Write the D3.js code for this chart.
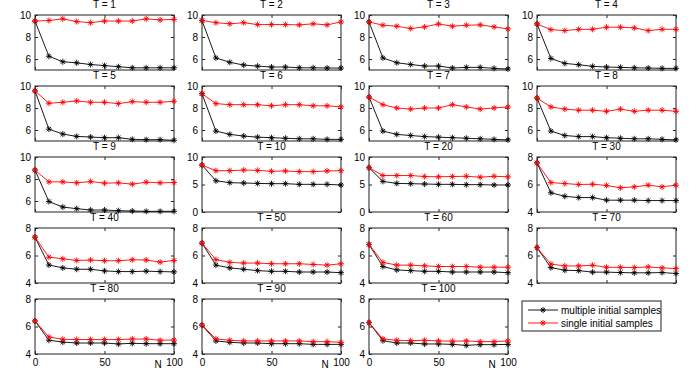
<!DOCTYPE html>
<html>
<head>
<meta charset="utf-8">
<script src="https://cdn.jsdelivr.net/npm/d3@7"></script>
<style>
  body { margin: 0; background: #fff; }
  text { font-family: "Liberation Sans", Arial, sans-serif; font-size: 10px; fill: #000; }
</style>
</head>
<body>
<div id="chart"></div>
<script>
// panel labels (T) and x values (N)
var tValues = [1, 2, 3, 4, 5, 6, 7, 8, 9, 10, 20, 30, 40, 50, 60, 70, 80, 90, 100];
var nValues = [0, 10, 20, 30, 40, 50, 60, 70, 80, 90, 100];
var xTicks = [0, 50, 100];

// y limits and tick values for each panel
var yLimits = [
  [5, 10], [5, 10], [5, 10], [5, 10],
  [5, 10], [5, 10], [5, 10], [5, 10],
  [5, 10], [0, 10], [0, 10], [4, 8],
  [4, 8], [4, 8], [4, 8], [4, 8],
  [4, 8], [4, 8], [4, 8]
];
var yTicks = [
  [6, 8, 10], [6, 8, 10], [6, 8, 10], [6, 8, 10],
  [6, 8, 10], [6, 8, 10], [6, 8, 10], [6, 8, 10],
  [6, 8, 10], [0, 5, 10], [0, 5, 10], [4, 6, 8],
  [4, 6, 8], [4, 6, 8], [4, 6, 8], [4, 6, 8],
  [4, 6, 8], [4, 6, 8], [4, 6, 8]
];

// multiple initial samples (black)
var multiple = [
  [9.45, 6.25, 5.75, 5.65, 5.5, 5.4, 5.3, 5.2, 5.2, 5.2, 5.2],
  [9.5, 6.1, 5.7, 5.45, 5.35, 5.27, 5.27, 5.2, 5.2, 5.18, 5.18],
  [9.37, 6.1, 5.66, 5.5, 5.36, 5.36, 5.18, 5.24, 5.24, 5.15, 5.09],
  [9.19, 6.05, 5.6, 5.48, 5.33, 5.27, 5.24, 5.2, 5.18, 5.15, 5.15],
  [9.55, 6.08, 5.63, 5.42, 5.36, 5.3, 5.3, 5.15, 5.12, 5.12, 5.06],
  [9.3, 5.9, 5.6, 5.45, 5.35, 5.3, 5.25, 5.2, 5.2, 5.15, 5.15],
  [9.0, 5.9, 5.6, 5.5, 5.4, 5.35, 5.3, 5.25, 5.2, 5.15, 5.1],
  [8.9, 5.9, 5.5, 5.4, 5.4, 5.3, 5.25, 5.2, 5.2, 5.15, 5.1],
  [8.81, 5.95, 5.45, 5.3, 5.18, 5.18, 5.12, 5.09, 5.06, 5.06, 5.06],
  [8.52, 5.68, 5.33, 5.27, 5.2, 5.15, 5.15, 5.03, 5.03, 5.03, 4.91],
  [8.05, 5.56, 5.2, 5.15, 5.09, 5.03, 5.03, 4.97, 4.97, 4.91, 4.91],
  [7.57, 5.4, 5.14, 5.05, 5.05, 4.86, 4.86, 4.86, 4.83, 4.83, 4.83],
  [7.33, 5.31, 5.1, 5.0, 5.0, 4.88, 4.83, 4.83, 4.86, 4.83, 4.81],
  [6.9, 5.3, 5.1, 5.0, 4.9, 4.85, 4.85, 4.8, 4.8, 4.8, 4.75],
  [6.8, 5.2, 4.95, 4.9, 4.85, 4.85, 4.8, 4.8, 4.8, 4.8, 4.75],
  [6.57, 5.12, 4.93, 4.9, 4.79, 4.79, 4.76, 4.74, 4.74, 4.76, 4.69],
  [6.4, 5.0, 4.87, 4.8, 4.8, 4.8, 4.73, 4.78, 4.75, 4.75, 4.75],
  [6.1, 4.95, 4.85, 4.8, 4.8, 4.75, 4.75, 4.75, 4.7, 4.7, 4.7],
  [6.28, 4.97, 4.8, 4.8, 4.73, 4.73, 4.7, 4.63, 4.68, 4.68, 4.7]
];

// single initial samples (red)
var single = [
  [9.45, 9.5, 9.65, 9.4, 9.3, 9.45, 9.45, 9.45, 9.65, 9.55, 9.6],
  [9.5, 9.3, 9.2, 9.3, 9.13, 9.13, 9.13, 9.1, 9.2, 9.1, 9.37],
  [9.37, 9.07, 8.98, 8.77, 8.92, 9.19, 8.98, 9.07, 9.1, 8.92, 8.73],
  [9.19, 8.67, 8.58, 8.7, 8.7, 8.89, 8.89, 8.83, 8.58, 8.7, 8.7],
  [9.55, 8.43, 8.52, 8.64, 8.52, 8.52, 8.4, 8.58, 8.52, 8.52, 8.61],
  [9.3, 8.4, 8.3, 8.3, 8.3, 8.2, 8.3, 8.3, 8.2, 8.2, 8.1],
  [9.0, 8.3, 8.0, 7.9, 8.0, 8.0, 8.3, 8.1, 7.9, 8.0, 8.1],
  [8.9, 8.1, 7.9, 7.8, 7.8, 7.7, 7.9, 7.7, 7.8, 7.8, 7.7],
  [8.81, 7.74, 7.74, 7.65, 7.77, 7.62, 7.65, 7.53, 7.71, 7.65, 7.68],
  [8.52, 7.51, 7.51, 7.63, 7.57, 7.4, 7.46, 7.34, 7.34, 7.46, 7.51],
  [8.05, 6.63, 6.63, 6.63, 6.45, 6.4, 6.45, 6.5, 6.33, 6.5, 6.4],
  [7.57, 6.14, 6.07, 6.0, 6.02, 5.93, 5.76, 5.83, 5.95, 5.83, 5.95],
  [7.33, 5.88, 5.76, 5.64, 5.67, 5.62, 5.62, 5.69, 5.67, 5.52, 5.64],
  [6.9, 5.7, 5.5, 5.45, 5.45, 5.4, 5.4, 5.4, 5.35, 5.3, 5.4],
  [6.8, 5.5, 5.3, 5.3, 5.25, 5.2, 5.2, 5.2, 5.15, 5.15, 5.15],
  [6.57, 5.38, 5.24, 5.24, 5.29, 5.14, 5.14, 5.12, 5.17, 5.1, 5.05],
  [6.4, 5.24, 5.07, 5.05, 5.05, 5.05, 5.05, 5.09, 5.09, 5.0, 5.02],
  [6.1, 5.1, 5.0, 4.95, 4.95, 4.95, 4.95, 4.95, 4.9, 4.9, 4.85],
  [6.28, 5.09, 5.0, 4.97, 5.0, 4.95, 4.93, 4.95, 4.9, 4.9, 4.95]
];

var seriesNames = ["multiple initial samples", "single initial samples"];
var seriesColors = ["#000", "#ff0000"];

var W = 696, H = 374;
var colLeft = [35, 202, 369, 537];
var rowTop = [15, 86, 157, 228, 299];
var w = 139, h = 55;

var svg = d3.select("#chart").append("svg")
  .attr("width", W)
  .attr("height", H);

//asterisk marker like matlab '*'
function star(r) {
  var a = r * 0.7;
  return "M" + (-r) + ",0L" + r + ",0M0," + (-r) + "L0," + r +
    "M" + (-a) + "," + (-a) + "L" + a + "," + a +
    "M" + (-a) + "," + a + "L" + a + "," + (-a);
}

var x = d3.scaleLinear().domain([0, 100]).range([0, w]);
var fmt = d3.format("d");

tValues.forEach(function(t, i) {
  var col = i % 4, row = Math.floor(i / 4);
  var g = svg.append("g")
    .attr("transform", "translate(" + colLeft[col] + "," + rowTop[row] + ")");

  var y = d3.scaleLinear().domain(yLimits[i]).range([h, 0]);

  var bottomRow = (row === 4);

  // axes with inward ticks
  var left = g.append("g").call(d3.axisLeft(y).tickValues(yTicks[i]).tickSizeInner(-3).tickSizeOuter(0)
    .tickPadding(4).tickFormat(fmt));
  var right = g.append("g").attr("transform", "translate(" + w + ",0)")
    .call(d3.axisRight(y).tickValues(yTicks[i]).tickSizeInner(-3).tickSizeOuter(0).tickFormat(""));
  var top = g.append("g")
    .call(d3.axisTop(x).tickValues(xTicks).tickSizeInner(-3).tickSizeOuter(0).tickFormat(""));
  var bottom = g.append("g").attr("transform", "translate(0," + h + ")")
    .call(d3.axisBottom(x).tickValues(xTicks).tickSizeInner(-3).tickSizeOuter(0).tickPadding(5)
      .tickFormat(bottomRow ? fmt : ""));

  [left, right, top, bottom].forEach(function(a) {
    a.select(".domain").remove();
    a.selectAll(".tick line").attr("stroke", "#222");
    a.selectAll("text").style("font-size", "10px").attr("fill", "#000")
      .style("font-family", '"Liberation Sans", Arial, sans-serif');
  });

  g.append("rect")
    .attr("x", 0).attr("y", 0)
    .attr("width", w).attr("height", h)
    .attr("fill", "none")
    .attr("stroke", "#333")
    .attr("stroke-width", 1.1);

  if (bottomRow) {
    g.append("text")
      .attr("x", x(88.5))
      .attr("y", h + 14)
      .attr("text-anchor", "middle")
      .text("N");
  }

  // title
  g.append("text")
    .attr("x", w / 2)
    .attr("y", -7)
    .attr("text-anchor", "middle")
    .text("T = " + t);

  var line = d3.line()
    .x(function(d, j) { return x(nValues[j]); })
    .y(function(d) { return y(d); });

  [multiple[i], single[i]].forEach(function(vals, s) {
    g.append("path")
      .datum(vals)
      .attr("d", line)
      .attr("fill", "none")
      .attr("stroke", seriesColors[s])
      .attr("stroke-width", 0.9);

    g.selectAll(".m" + s)
      .data(vals)
      .enter()
      .append("path")
      .attr("class", "m" + s)
      .attr("d", star(3))
      .attr("transform", function(d, j) {
        return "translate(" + x(nValues[j]) + "," + y(d) + ")";
      })
      .attr("fill", "none")
      .attr("stroke", seriesColors[s])
      .attr("stroke-width", 0.9);
  });
});

//legend
var legend = svg.append("g").attr("transform", "translate(522,301)");
legend.append("rect")
  .attr("width", 139).attr("height", 30)
  .attr("fill", "#fff")
  .attr("stroke", "#333")
  .attr("stroke-width", 1.1);

seriesNames.forEach(function(name, s) {
  var ly = 9 + s * 13;
  legend.append("line")
    .attr("x1", 6).attr("x2", 36)
    .attr("y1", ly).attr("y2", ly)
    .attr("stroke", seriesColors[s])
    .attr("stroke-width", 0.9);
  legend.append("path")
    .attr("d", star(3))
    .attr("transform", "translate(21," + ly + ")")
    .attr("fill", "none")
    .attr("stroke", seriesColors[s])
    .attr("stroke-width", 0.9);
  legend.append("text")
    .attr("x", 39)
    .attr("y", ly + 3.5)
    .text(name);
});
</script>
</body>
</html>
